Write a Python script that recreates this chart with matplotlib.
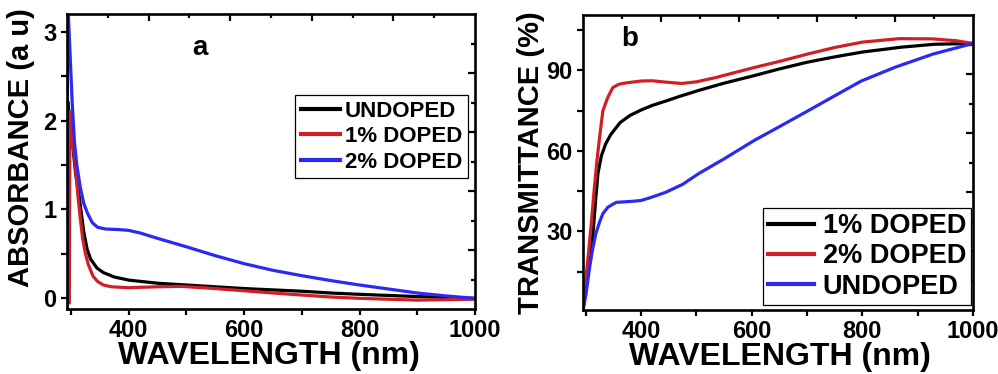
import numpy as np
import matplotlib
matplotlib.use("Agg")
import matplotlib.pyplot as plt
from matplotlib.ticker import MultipleLocator

plt.rcParams['font.family'] = ['Liberation Sans', 'DejaVu Sans']
plt.rcParams['font.weight'] = 'bold'

# ---------------- Panel a : absorbance ----------------
wl_a_undoped = [295, 296, 300, 304, 308, 313, 318, 322, 328, 334, 345, 356, 375, 400,
                450, 500, 550, 600, 650, 700, 750, 800, 900, 1000]
abs_undoped = [2.2, 2.1, 1.9, 1.65, 1.4, 1.2, 0.95, 0.75, 0.55, 0.44, 0.34, 0.29, 0.24, 0.205,
               0.17, 0.15, 0.13, 0.11, 0.095, 0.08, 0.06, 0.045, 0.02, 0.0]

wl_a_1 = [297, 298, 300, 304, 308, 312, 316, 320, 325, 330, 338, 346, 356, 370, 400,
          450, 490, 550, 600, 650, 700, 750, 800, 900, 1000]
abs_1 = [-0.05, 2.1, 1.95, 1.7, 1.45, 1.15, 0.9, 0.68, 0.5, 0.38, 0.25, 0.19, 0.15, 0.13, 0.12,
         0.13, 0.135, 0.11, 0.085, 0.06, 0.037, 0.015, 0.0, -0.02, -0.01]

wl_a_2 = [293, 294, 298, 302, 306, 310, 316, 322, 329, 337, 346, 360, 380, 400, 420, 450,
          500, 550, 600, 650, 700, 750, 800, 850, 900, 950, 1000]
abs_2 = [-0.1, 3.4, 2.8, 2.2, 1.75, 1.5, 1.25, 1.07, 0.95, 0.85, 0.8, 0.78, 0.775, 0.765, 0.735,
         0.675, 0.58, 0.48, 0.39, 0.315, 0.255, 0.2, 0.15, 0.105, 0.06, 0.027, 0.0]

# ---------------- Panel b : transmittance ----------------
wl_b_1 = [295, 300, 305, 313, 318, 322, 328, 336, 345, 362, 380, 400, 420, 444, 470, 504,
          550, 604, 650, 700, 750, 800, 870, 930, 1000]
tr_1 = [0.5, 10, 18, 29, 42, 51.5, 58, 62.6, 66, 70.5, 73.2, 75.2, 76.9, 78.5, 80.3, 82.5,
        85.2, 88, 90.5, 93, 95, 96.8, 98.6, 99.7, 100]

wl_b_2 = [295, 300, 305, 310, 315, 320, 325, 331, 340, 349, 360, 373, 400, 420, 444, 473,
          500, 535, 604, 650, 700, 750, 800, 867, 927, 970, 1000]
tr_2 = [0.5, 12, 22, 33, 45, 56, 65, 75, 80, 83.6, 84.8, 85.3, 86, 86.1, 85.6, 85.1,
        85.7, 87.3, 91, 93.3, 96, 98.5, 100.5, 101.8, 101.7, 101, 100]

wl_b_un = [295, 300, 307, 312, 318, 325, 331, 340, 355, 370, 385, 400, 416, 444, 475, 504,
           550, 604, 650, 700, 750, 798, 860, 927, 1000]
tr_un = [0.5, 6, 16.6, 23, 29, 33.5, 36.6, 39, 40.8, 41, 41.2, 41.5, 42.5, 44.5, 47.5, 51.5,
         57, 63.8, 69, 74.7, 80.5, 86, 91.2, 96, 100]

labels_a = ["UNDOPED", "1% DOPED", "2% DOPED"]
labels_b = ["1% DOPED", "2% DOPED", "UNDOPED"]

BLACK = "#000000"
RED = "#d02027"
BLUE = "#2a2af2"

W, H = 998, 374
fig = plt.figure(figsize=(W / 100, H / 100), dpi=100)

def px_axes(l, t, r, b):
    return fig.add_axes([l / W, 1 - b / H, (r - l) / W, (b - t) / H])

axa = px_axes(67, 14, 475, 309)
axb = px_axes(583, 15, 973, 310)

LW = 2.3
axa.plot(wl_a_undoped, abs_undoped, color=BLACK, lw=LW, label=labels_a[0])
axa.plot(wl_a_1, abs_1, color=RED, lw=LW, label=labels_a[1])
axa.plot(wl_a_2, abs_2, color=BLUE, lw=LW, label=labels_a[2])

axb.plot(wl_b_1, tr_1, color=BLACK, lw=LW, label=labels_b[0])
axb.plot(wl_b_2, tr_2, color=RED, lw=LW, label=labels_b[1])
axb.plot(wl_b_un, tr_un, color=BLUE, lw=LW, label=labels_b[2])

axa.set_xlim(293, 1000)
axa.set_ylim(-0.12, 3.2)
axb.set_xlim(295, 1000)
axb.set_ylim(0.7, 110.6)

axa.xaxis.set_major_locator(MultipleLocator(200))
axa.xaxis.set_minor_locator(MultipleLocator(100))
axa.yaxis.set_major_locator(MultipleLocator(1))
axa.yaxis.set_minor_locator(MultipleLocator(0.5))
axb.xaxis.set_major_locator(MultipleLocator(200))
axb.xaxis.set_minor_locator(MultipleLocator(100))
axb.yaxis.set_major_locator(MultipleLocator(30))
axb.yaxis.set_minor_locator(MultipleLocator(15))

for ax in (axa, axb):
    for s in ax.spines.values():
        s.set_linewidth(1.9)
    ax.tick_params(which='both', direction='out', width=1.6, labelsize=17, pad=3,
                   top=False, right=False)
    ax.tick_params(which='major', length=4.5)
    ax.tick_params(which='minor', length=4.0)
    for lab in ax.get_xticklabels() + ax.get_yticklabels():
        lab.set_fontweight('bold')
    ax.set_xlabel("WAVELENGTH (nm)", fontsize=23, fontweight='bold', labelpad=0)
    # top / right independent tick scales (0..10)
    axt = ax.twiny()
    axt.set_xlim(0, 10)
    axt.set_xticks([2, 4, 6, 8])
    axt.set_xticks([1, 3, 5, 7, 9], minor=True)
    axt.tick_params(which='both', direction='in', width=1.6, labeltop=False, top=True)
    axt.tick_params(which='major', length=5)
    axt.tick_params(which='minor', length=3)
    axr = ax.twinx()
    axr.set_ylim(0, 10)
    axr.set_yticks([2, 4, 6, 8])
    axr.set_yticks([1, 3, 5, 7, 9], minor=True)
    axr.tick_params(which='both', direction='in', width=1.6, labelright=False, right=True)
    axr.tick_params(which='major', length=5)
    axr.tick_params(which='minor', length=3)
    for a2 in (axt, axr):
        for s in a2.spines.values():
            s.set_visible(False)

axa.set_ylabel("ABSORBANCE (a u)", fontsize=21, fontweight='bold')
axb.set_ylabel("TRANSMITTANCE (%)", fontsize=21, fontweight='bold')
axa.yaxis.set_label_coords(-0.078, 0.546)
axb.yaxis.set_label_coords(-0.097, 0.5)
axa.xaxis.set_label_coords(0.495, -0.11)
axb.xaxis.set_label_coords(0.505, -0.11)

axa.text(0.325, 0.885, "a", transform=axa.transAxes, fontsize=20, fontweight='bold',
         ha='center', va='center')
axb.text(0.12, 0.92, "b", transform=axb.transAxes, fontsize=20, fontweight='bold',
         ha='center', va='center')

lega = axa.legend(loc='upper left', bbox_to_anchor=(0.559, 0.725), fontsize=16,
                  frameon=True, fancybox=False, edgecolor='black', framealpha=1,
                  handlelength=1.75, handletextpad=0.25, labelspacing=0.2,
                  borderpad=0.25, borderaxespad=0)
lega.get_frame().set_linewidth(0.9)
legb = axb.legend(loc='upper left', bbox_to_anchor=(0.4615, 0.3458), fontsize=19.5,
                  frameon=True, fancybox=False, edgecolor='black', framealpha=1,
                  handlelength=1.7, handletextpad=0.3, labelspacing=0.15,
                  borderpad=0.2, borderaxespad=0)
legb.get_frame().set_linewidth(0.9)
for leg in (lega, legb):
    for t in leg.get_texts():
        t.set_fontweight('bold')
    for l in leg.get_lines():
        l.set_linewidth(3)

for ax in (axa, axb):
    ax.set_zorder(3)
    ax.patch.set_alpha(0)

fig.savefig("out.png", dpi=100)
